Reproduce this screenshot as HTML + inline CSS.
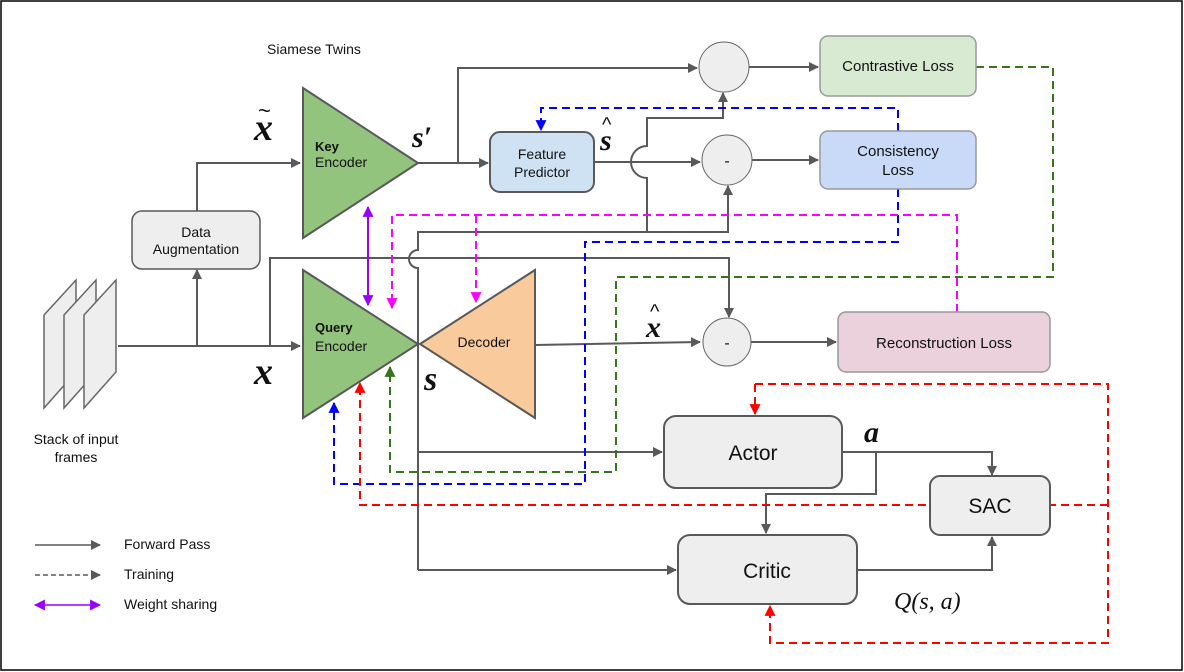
<!DOCTYPE html>
<html><head><meta charset="utf-8"><style>
html,body{margin:0;padding:0;background:#fff}
svg{display:block}
text{font-family:"Liberation Sans",sans-serif;fill:#111}
.m{font-family:"Liberation Serif",serif;font-style:italic;font-weight:bold}
</style></head><body>
<svg width="1184" height="672" viewBox="0 0 1184 672" xmlns="http://www.w3.org/2000/svg">
<defs>
<marker id="g" viewBox="0 0 10 10" refX="9" refY="5" markerWidth="10" markerHeight="10" markerUnits="userSpaceOnUse" orient="auto"><path d="M0,0L10,5L0,10z" fill="#595959"/></marker>
<marker id="b" viewBox="0 0 10 10" refX="9" refY="5" markerWidth="11" markerHeight="11" markerUnits="userSpaceOnUse" orient="auto"><path d="M0,0L10,5L0,10z" fill="#0000ff"/></marker>
<marker id="r" viewBox="0 0 10 10" refX="9" refY="5" markerWidth="11" markerHeight="11" markerUnits="userSpaceOnUse" orient="auto"><path d="M0,0L10,5L0,10z" fill="#ff0000"/></marker>
<marker id="mg" viewBox="0 0 10 10" refX="9" refY="5" markerWidth="11" markerHeight="11" markerUnits="userSpaceOnUse" orient="auto"><path d="M0,0L10,5L0,10z" fill="#ff00ff"/></marker>
<marker id="gr" viewBox="0 0 10 10" refX="9" refY="5" markerWidth="11" markerHeight="11" markerUnits="userSpaceOnUse" orient="auto"><path d="M0,0L10,5L0,10z" fill="#38761d"/></marker>
<marker id="p" viewBox="0 0 10 10" refX="9" refY="5" markerWidth="11" markerHeight="11" markerUnits="userSpaceOnUse" orient="auto-start-reverse"><path d="M0,0L10,5L0,10z" fill="#9900ff"/></marker>
</defs>
<rect x="1" y="1" width="1181" height="669" fill="#fff" stroke="#000" stroke-width="1.5"/>

<g fill="#eee" stroke="#666" stroke-width="1.5">
<path d="M44,315L76,280L76,372L44,408z"/>
<path d="M64,315L96,280L96,372L64,408z"/>
<path d="M84,315L116,280L116,372L84,408z"/>
</g>
<text x="76" y="444" font-size="14" text-anchor="middle">Stack of input</text>
<text x="76" y="462" font-size="14" text-anchor="middle">frames</text>

<g fill="none" stroke="#595959" stroke-width="2">
<path d="M118,346H300" marker-end="url(#g)"/>
<path d="M197,346V270" marker-end="url(#g)"/>
<path d="M197,211V163H300" marker-end="url(#g)"/>
<path d="M270,346V258H729V317" marker-end="url(#g)"/>
<path d="M418,570V268A9,9 0 0 1 418,250V232H728V186" marker-end="url(#g)"/>
<path d="M647,232V178A8,8 0 0 1 647,146V118H723V93" marker-end="url(#g)"/>
<path d="M418,452H662" marker-end="url(#g)"/>
<path d="M418,570H676" marker-end="url(#g)"/>
<path d="M418,163H488" marker-end="url(#g)"/>
<path d="M458,163V68H697" marker-end="url(#g)"/>
<path d="M749,67H818" marker-end="url(#g)"/>
<path d="M594,162H700" marker-end="url(#g)"/>
<path d="M752,160H818" marker-end="url(#g)"/>
<path d="M535,345L700,342" marker-end="url(#g)"/>
<path d="M751,342H836" marker-end="url(#g)"/>
<path d="M842,452H992V475" marker-end="url(#g)"/>
<path d="M876,452V494H766V533" marker-end="url(#g)"/>
<path d="M857,570H992V537" marker-end="url(#g)"/>
</g>

<g fill="none" stroke-width="2" stroke-dasharray="8,5">
<path d="M898,131V108H541V130" stroke="#0000ff" marker-end="url(#b)"/>
<path d="M898,189V242H585V484H334V403" stroke="#0000ff" marker-end="url(#b)"/>
<path d="M957,312V215H392V308" stroke="#ff00ff" marker-end="url(#mg)"/>
<path d="M476,215V302" stroke="#ff00ff" marker-end="url(#mg)"/>
<path d="M976,67H1053V277H616V472H390V367" stroke="#38761d" marker-end="url(#gr)"/>
<path d="M755,384H1108V643H770V606" stroke="#ff0000" marker-end="url(#r)"/>
<path d="M755,384V414" stroke="#ff0000" marker-end="url(#r)"/>
<path d="M1108,505H360V383" stroke="#ff0000" marker-end="url(#r)"/>
</g>
<path d="M368,207V305" stroke="#9900ff" stroke-width="2" fill="none" marker-start="url(#p)" marker-end="url(#p)"/>

<g stroke="#595959" stroke-width="2">
<path d="M303,88L303,238L418,163z" fill="#93c47d"/>
<path d="M303,270L303,418L418,344z" fill="#93c47d"/>
<path d="M420,344L535,270L535,418z" fill="#f9cb9c"/>
</g>
<text x="315" y="151" font-size="13" font-weight="bold">Key</text>
<text x="315" y="167" font-size="14">Encoder</text>
<text x="315" y="332" font-size="13" font-weight="bold">Query</text>
<text x="315" y="351" font-size="14">Encoder</text>
<text x="484" y="347" font-size="14" text-anchor="middle">Decoder</text>

<g stroke="#595959" stroke-width="2">
<rect x="132" y="211" width="128" height="58" rx="10" fill="#eee" stroke-width="1.5"/>
<rect x="490" y="132" width="104" height="60" rx="10" fill="#cfe2f3"/>
<rect x="820" y="36" width="156" height="60" rx="8" fill="#d9ead3" stroke="#999" stroke-width="1.5"/>
<rect x="820" y="131" width="156" height="58" rx="8" fill="#c9daf8" stroke="#999" stroke-width="1.5"/>
<rect x="838" y="312" width="212" height="60" rx="8" fill="#ead1dc" stroke="#999" stroke-width="1.5"/>
<rect x="664" y="416" width="178" height="72" rx="12" fill="#eee"/>
<rect x="930" y="476" width="120" height="59" rx="10" fill="#eee"/>
<rect x="678" y="535" width="179" height="69" rx="12" fill="#eee"/>
<circle cx="724" cy="67" r="25" fill="#eee" stroke="#666" stroke-width="1"/>
<circle cx="727" cy="160" r="25" fill="#eee" stroke="#666" stroke-width="1"/>
<circle cx="727" cy="342" r="24" fill="#eee" stroke="#666" stroke-width="1"/>
</g>
<text x="196" y="237" font-size="14" text-anchor="middle">Data</text>
<text x="196" y="254" font-size="14" text-anchor="middle">Augmentation</text>
<text x="542" y="159" font-size="14" text-anchor="middle">Feature</text>
<text x="542" y="177" font-size="14" text-anchor="middle">Predictor</text>
<text x="898" y="71" font-size="15" text-anchor="middle">Contrastive Loss</text>
<text x="898" y="156" font-size="15" text-anchor="middle">Consistency</text>
<text x="898" y="175" font-size="15" text-anchor="middle">Loss</text>
<text x="944" y="348" font-size="15" text-anchor="middle">Reconstruction Loss</text>
<text x="753" y="460" font-size="21" text-anchor="middle">Actor</text>
<text x="990" y="513" font-size="21" text-anchor="middle">SAC</text>
<text x="767" y="578" font-size="21" text-anchor="middle">Critic</text>
<text x="727" y="166" font-size="16" text-anchor="middle">-</text>
<text x="727" y="348" font-size="16" text-anchor="middle">-</text>

<text class="m" x="254" y="140" font-size="38">x</text>
<text x="258" y="118" font-size="22" font-family="Liberation Serif">~</text>
<text class="m" x="412" y="147" font-size="30">s′</text>
<text class="m" x="600" y="150" font-size="30">s</text>
<text x="602" y="131" font-size="20" font-family="Liberation Serif">^</text>
<text class="m" x="646" y="337" font-size="30">x</text>
<text x="650" y="318" font-size="20" font-family="Liberation Serif">^</text>
<text class="m" x="254" y="384" font-size="38">x</text>
<text class="m" x="424" y="390" font-size="34">s</text>
<text class="m" x="864" y="442" font-size="30">a</text>
<text class="m" x="894" y="609" font-size="24" style="font-weight:normal">Q(s, a)</text>
<text x="267" y="54" font-size="14">Siamese Twins</text>

<path d="M35,545H100" stroke="#595959" stroke-width="1.5" marker-end="url(#g)" fill="none"/>
<path d="M35,575H100" stroke="#595959" stroke-width="1.5" stroke-dasharray="5,3" marker-end="url(#g)" fill="none"/>
<path d="M35,605H100" stroke="#9900ff" stroke-width="1.5" marker-start="url(#p)" marker-end="url(#p)" fill="none"/>
<text x="124" y="549" font-size="14">Forward Pass</text>
<text x="124" y="579" font-size="14">Training</text>
<text x="124" y="609" font-size="14">Weight sharing</text>
</svg>
</body></html>
